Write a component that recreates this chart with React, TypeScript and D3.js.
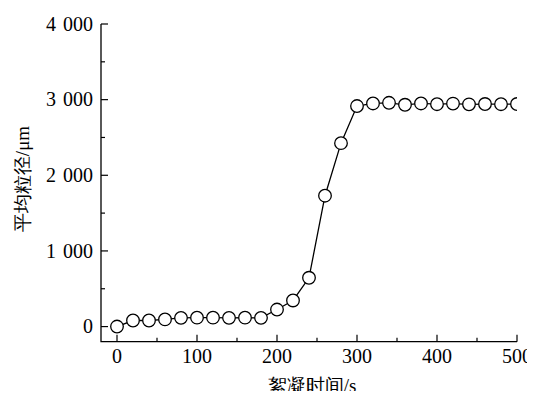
import React, { useEffect, useRef } from "react";
import * as d3 from "d3";

// flocculation time (s) and mean particle size (µm)
const times = [0, 20, 40, 60, 80, 100, 120, 140, 160, 180, 200, 220, 240, 260, 280, 300, 320, 340, 360, 380, 400, 420, 440, 460, 480, 500];
const sizes = [0, 80, 80, 95, 115, 118, 118, 115, 118, 115, 225, 345, 645, 1730, 2425, 2915, 2950, 2958, 2932, 2950, 2940, 2948, 2938, 2942, 2940, 2942];

const xTicks = [0, 100, 200, 300, 400, 500];
const xMinor = [50, 150, 250, 350, 450];
const yTicks = [0, 1000, 2000, 3000, 4000];
const yMinor = [500, 1500, 2500, 3500];
const yTickLabels = ["0", "1 000", "2 000", "3 000", "4 000"];

const xTitle = "絮凝时间/s";
const yTitle = "平均粒径/μm";

const W = 535;
const H = 399;
const FONT = '"Liberation Serif", "DejaVu Serif", serif';

const Chart = () => {
  const ref = useRef<SVGSVGElement>(null);

  useEffect(() => {
    const svg = d3.select(ref.current);
    svg.selectAll("*").remove();

    const left = 101;
    const right = 517;
    const top = 24;
    const bottom = 341.7;

    const x = d3.scaleLinear().domain([-20, 500]).range([left, right]);
    const y = d3.scaleLinear().domain([-200, 4000]).range([bottom, top]);

    svg
      .append("clipPath")
      .attr("id", "plot-clip")
      .append("rect")
      .attr("x", left)
      .attr("y", top - 10)
      .attr("width", right - left)
      .attr("height", bottom - top + 10);

    // axes lines
    svg
      .append("path")
      .attr("d", `M${left},${top}V${bottom}H${right}`)
      .attr("fill", "none")
      .attr("stroke", "#000")
      .attr("stroke-width", 1.3);

    // ticks point inward
    const tickG = svg.append("g").attr("stroke", "#000").attr("stroke-width", 1.2);
    xTicks.forEach((t) => {
      tickG.append("line").attr("x1", x(t)).attr("x2", x(t)).attr("y1", bottom).attr("y2", bottom - 7);
    });
    xMinor.forEach((t) => {
      tickG.append("line").attr("x1", x(t)).attr("x2", x(t)).attr("y1", bottom).attr("y2", bottom - 4);
    });
    yTicks.forEach((t) => {
      tickG.append("line").attr("x1", left).attr("x2", left + 7).attr("y1", y(t)).attr("y2", y(t));
    });
    yMinor.forEach((t) => {
      tickG.append("line").attr("x1", left).attr("x2", left + 4).attr("y1", y(t)).attr("y2", y(t));
    });

    const labels = svg.append("g").style("font-family", FONT).attr("fill", "#000");

    // tick labels
    labels
      .append("g")
      .selectAll("text")
      .data(xTicks)
      .enter()
      .append("text")
      .attr("x", (d) => x(d))
      .attr("y", 363)
      .attr("text-anchor", "middle")
      .style("font-size", "20px")
      .text((d) => String(d));

    labels
      .append("g")
      .selectAll("text")
      .data(yTicks)
      .enter()
      .append("text")
      .attr("x", 93)
      .attr("y", (d) => y(d))
      .attr("dy", "0.33em")
      .attr("text-anchor", "end")
      .style("font-size", "20px")
      .style("word-spacing", "2px")
      .text((d, i) => yTickLabels[i]);

    // titles
    labels
      .append("text")
      .attr("x", 312)
      .attr("y", 392)
      .attr("text-anchor", "middle")
      .style("font-size", "19px")
      .text(xTitle);

    labels
      .append("text")
      .attr("transform", "translate(29,179) rotate(-90)")
      .attr("text-anchor", "middle")
      .style("font-size", "19px")
      .text(yTitle);

    // series
    const pts = times.map((t, i) => [t, sizes[i]] as [number, number]);
    const plot = svg.append("g").attr("clip-path", "url(#plot-clip)");

    const line = d3
      .line<[number, number]>()
      .x((d) => x(d[0]))
      .y((d) => y(d[1]));

    plot
      .append("path")
      .datum(pts)
      .attr("d", line)
      .attr("fill", "none")
      .attr("stroke", "#000")
      .attr("stroke-width", 1.3);

    plot
      .selectAll("circle")
      .data(pts)
      .enter()
      .append("circle")
      .attr("cx", (d) => x(d[0]))
      .attr("cy", (d) => y(d[1]))
      .attr("r", 6.3)
      .attr("fill", "#fff")
      .attr("stroke", "#000")
      .attr("stroke-width", 1.3);
  }, []);

  return <svg ref={ref} width={W} height={H} style={{ display: "block" }} />;
};

export default function App() {
  return (
    <div style={{ margin: -8 }}>
      <Chart />
    </div>
  );
}
